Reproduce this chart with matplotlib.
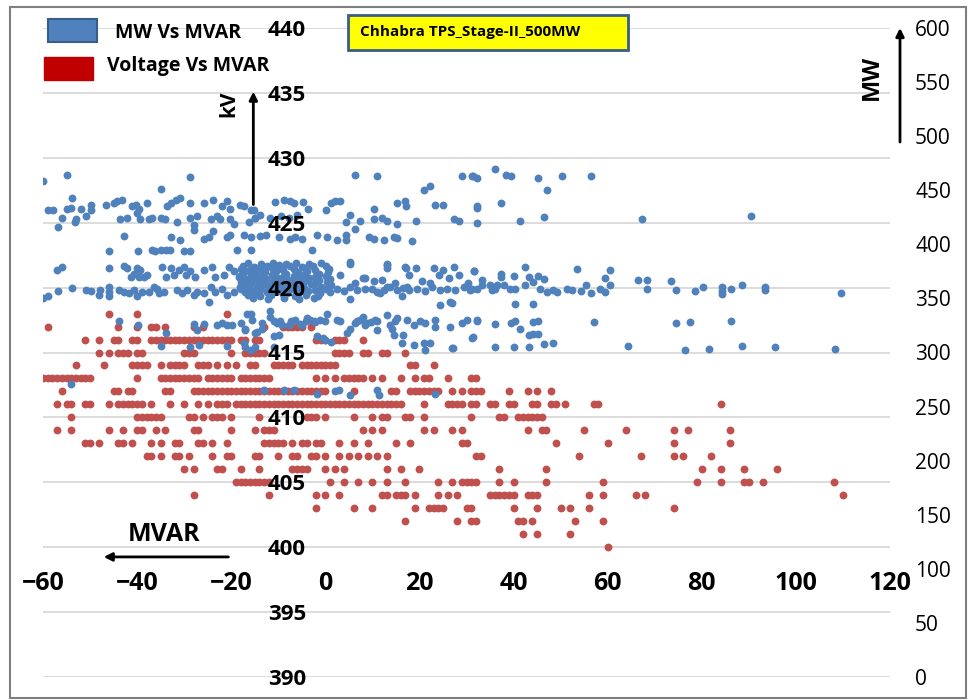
import numpy as np
import matplotlib.pyplot as plt
from matplotlib.patches import Rectangle

plt.rcParams['font.family'] = ['Open Sans', 'DejaVu Sans']

W, H = 973, 700

# Voltage (kV) vs MVAR - voltage is logged in whole kV steps
red_levels = [418, 417, 416, 415, 414, 413, 412, 411, 410, 409,
              408, 407, 406, 405, 404, 403, 402, 401, 400]
red_mvar = [
    [-46, -40, -21],
    [-59, -44, -40, -37, -36, -34, -28, -26, -13, -9, -8, -7, -6, -5, -3],
    [-51, -48, -45, -44, -41, -40, -37, -36, -35, -34, -33, -32, -31, -30, -29,
     -28, -27, -26, -25, -24, -23, -22, -21, -20, -18, -17, -15, -14, -2, -1,
     0, 2, 3, 4, 8],
    [-48, -46, -44, -43, -42, -40, -39, -30, -29, -28, -20, -17, -16, -15, -14,
     -13, 2, 3, 4, 5, 8, 9, 12, 13, 17],
    [-53, -47, -41, -40, -39, -38, -35, -33, -32, -31, -30, -27, -26, -25, -23,
     -21, -19, -16, -15, -11, -10, -9, -8, -7, -5, -4, -3, -2, -1, 0, 1, 2,
     18, 19, 23],
    [-60, -59, -58, -57, -56, -55, -54, -53, -52, -51, -50, -40, -35, -34, -33,
     -32, -31, -30, -29, -28, -27, -25, -24, -23, -22, -21, -20, -18, -17, -16,
     -15, -14, -13, -12, -2, 0, 2, 4, 5, 6, 7, 8, 10, 12, 16, 19, 21, 22, 26,
     31, 32],
    [-56, -45, -44, -42, -41, -34, -33, -28, -27, -26, -25, -24, -23, -22, -21,
     -20, -19, -18, -17, -16, -15, -14, -13, -12, -11, -10, -9, -8, -7, -6, -5,
     -4, -3, -2, -1, 0, 6, 14, 15, 18, 19, 20, 21, 22, 23, 24, 27, 29, 31, 32,
     33, 39, 43, 45, 48],
    [-57, -55, -54, -51, -50, -46, -44, -43, -42, -41, -40, -39, -37, -33, -30,
     -27, -25, -23, -22, -21, -19, -18, -17, -16, -15, -14, -13, -12, -11, -10,
     -9, -8, -7, -6, -5, -4, -3, -2, -1, 0, 1, 2, 3, 4, 5, 6, 7, 8, 9, 10, 11,
     12, 13, 14, 15, 16, 21, 26, 27, 28, 29, 31, 32, 35, 36, 39, 40, 44, 45,
     48, 49, 51, 57, 58, 84],
    [-54, -40, -39, -38, -37, -36, -35, -29, -28, -26, -24, -23, -22, -20, -14,
     -4, -3, -2, 0, 6, 10, 12, 13, 17, 18, 21, 31, 37, 38, 41, 42, 43, 44, 45,
     46],
    [-57, -54, -46, -43, -40, -39, -36, -34, -28, -27, -20, -15, -13, -12, -11,
     8, 10, 12, 21, 23, 27, 29, 43, 46, 47, 55, 64, 74, 77, 86],
    [-51, -50, -48, -44, -43, -41, -37, -35, -32, -31, -27, -26, -24, -21, -13,
     -12, -11, -10, -9, -7, -5, -4, -2, -1, 3, 6, 9, 15, 18, 29, 30, 49, 60,
     74, 86],
    [-38, -37, -35, -32, -31, -29, -24, -21, -20, -15, -14, -10, -7, -6, -3, -2,
     0, 3, 5, 7, 9, 11, 13, 32, 33, 54, 67, 74, 76, 82],
    [-30, -28, -23, -22, -18, -14, -7, -6, -5, -4, 0, 2, 4, 13, 16, 20, 37, 47,
     80, 84, 89, 96],
    [-19, -18, -17, -16, -15, -14, -13, -12, 1, 4, 7, 10, 13, 17, 24, 27, 29, 30,
     31, 32, 37, 40, 47, 59, 79, 84, 89, 90, 93, 108],
    [-28, -12, -2, 0, 3, 12, 13, 15, 16, 17, 19, 24, 26, 28, 35, 36, 37, 38, 39,
     40, 43, 44, 45, 56, 59, 66, 68, 110],
    [-2, 6, 10, 19, 22, 23, 24, 25, 30, 31, 40, 45, 50, 52, 56, 74],
    [17, 28, 31, 32, 41, 42, 44, 53, 59],
    [42, 45, 52],
    [60],
]

# MW vs MVAR, (MVAR, MW)
blue_pts = [
    (-59.9, 459), (-54.8, 464), (-28.7, 462), (-34.9, 451), (-53.8, 443),
    (-58.9, 432), (-57.8, 432), (-55.9, 424), (-56.8, 416), (-55.0, 433),
    (-54.1, 434), (-53.3, 421), (-52.9, 423), (-52.0, 433), (-50.9, 426),
    (-49.9, 436), (-49.7, 432), (-46.7, 436), (-44.9, 438), (-44.2, 440),
    (-43.2, 441), (-43.7, 423), (-42.1, 424), (-41.0, 435), (-40.3, 436),
    (-39.6, 433), (-40.0, 429), (-39.3, 423), (-37.9, 438), (-37.5, 423),
    (-36.8, 424), (-34.9, 424), (-34.0, 423), (-33.6, 435), (-32.9, 438),
    (-31.8, 441), (-31.5, 421), (-30.8, 443), (-28.7, 438), (-28.7, 424),
    (-28.0, 418), (-28.0, 413), (-27.2, 426), (-25.8, 438), (-24.4, 423),
    (-23.8, 441), (-23.0, 426), (-22.3, 423), (-21.9, 435), (-20.9, 440),
    (-20.2, 423), (-20.2, 433), (-19.5, 419), (-18.1, 436), (-17.3, 435),
    (-16.3, 421), (-15.2, 432), (-14.9, 424),
    (-42.8, 408), (-32.9, 407), (-30.9, 404), (-25.8, 405), (-24.8, 407),
    (-23.8, 412), (-20.9, 407), (-20.2, 409), (-17.3, 409), (-15.9, 407),
    (-46.0, 394), (-39.8, 394), (-36.8, 395), (-36.1, 394), (-34.9, 395),
    (-33.8, 395), (-33.0, 395), (-30.1, 394), (-28.8, 394), (-18.8, 395),
    (-15.9, 395),
    (-57.0, 376), (-55.9, 379), (-46.0, 378), (-42.8, 380), (-42.1, 378),
    (-41.4, 370), (-40.7, 373), (-40.0, 378), (-39.3, 376), (-39.6, 370),
    (-38.6, 370), (-37.9, 372), (-34.7, 379), (-33.8, 370), (-32.9, 378),
    (-32.2, 372), (-31.1, 376), (-30.1, 379), (-29.7, 372), (-28.7, 375),
    (-27.6, 370), (-25.8, 376), (-24.1, 379), (-23.4, 370), (-21.6, 372),
    (-20.5, 379), (-19.5, 375), (-18.4, 370), (-17.3, 376), (-15.9, 373),
    (-14.9, 378), (-14.2, 367),
    (-58.9, 352), (-60.0, 350), (-56.8, 357), (-53.8, 360), (-50.9, 358),
    (-49.9, 357), (-48.1, 353), (-47.8, 358), (-46.0, 361), (-46.0, 356),
    (-46.0, 352), (-43.9, 358), (-42.8, 356), (-41.8, 355), (-40.7, 358),
    (-40.0, 352), (-38.9, 356), (-37.5, 356), (-36.4, 361), (-35.7, 359),
    (-35.4, 355), (-34.3, 356), (-31.5, 358), (-30.4, 355), (-29.4, 358),
    (-28.0, 353), (-27.2, 356), (-25.8, 355), (-24.8, 347), (-24.4, 361),
    (-23.4, 356), (-21.9, 359), (-20.9, 353), (-19.5, 356), (-18.1, 361),
    (-16.6, 358), (-15.2, 355), (-14.2, 356),
    (-43.9, 329), (-39.8, 325), (-33.8, 318), (-28.0, 326), (-27.2, 321),
    (-25.8, 326), (-34.9, 306), (-28.7, 305), (-26.9, 307), (-23.0, 325),
    (-21.9, 327), (-20.9, 325), (-19.8, 325), (-20.9, 306), (-18.0, 327),
    (-17.0, 322), (-15.9, 336), (-17.3, 309), (-15.9, 302), (-14.9, 305),
    (-14.5, 319), (-54.0, 271),
    # main cluster around zero MVAR
    (-16.4, 383), (-13.6, 382), (-11.1, 383), (-8.3, 382), (-6.2, 383),
    (-3.4, 382), (-1.0, 383),
    (-17.6, 380), (-15.1, 379), (-12.4, 380), (-9.8, 381), (-7.6, 380),
    (-4.9, 379), (-2.6, 380), (0.2, 380),
    (-18.0, 377), (-16.1, 376), (-13.7, 377), (-11.4, 378), (-9.1, 376),
    (-6.7, 377), (-4.4, 378), (-2.1, 376), (0.8, 377),
    (-17.2, 374), (-14.8, 373), (-12.9, 374), (-10.4, 375), (-8.3, 373),
    (-5.9, 374), (-3.8, 375), (-1.4, 373), (0.6, 374),
    (-18.1, 371), (-15.7, 370), (-13.4, 371), (-11.3, 372), (-9.0, 370),
    (-6.6, 371), (-4.6, 372), (-2.3, 370), (0.1, 371),
    (-16.9, 368), (-14.7, 367), (-12.6, 368), (-10.1, 369), (-7.9, 367),
    (-5.7, 368), (-3.4, 369), (-1.3, 367), (1.0, 368),
    (-18.0, 365), (-15.9, 364), (-13.4, 365), (-11.1, 366), (-9.1, 364),
    (-6.9, 365), (-4.4, 366), (-2.1, 364), (0.3, 365),
    (-17.1, 362), (-14.5, 361), (-12.4, 362), (-9.9, 363), (-7.7, 361),
    (-5.6, 362), (-3.1, 363), (-0.9, 361), (1.2, 362),
    (-18.0, 359), (-15.7, 358), (-13.6, 359), (-11.3, 360), (-8.9, 358),
    (-6.8, 359), (-4.5, 360), (-2.3, 358), (0.1, 359),
    (-17.0, 356), (-14.9, 355), (-12.4, 356), (-10.2, 357), (-8.1, 355),
    (-5.7, 356), (-3.6, 357), (-1.2, 355), (0.9, 356),
    (-16.4, 353), (-13.9, 352), (-11.6, 353), (-9.1, 354), (-6.4, 352),
    (-4.1, 353), (-1.6, 352),
    (-15.3, 350), (-12.1, 349), (-8.7, 350), (-5.6, 349), (-2.4, 350),
    (3.2, 372), (5.3, 382), (6.4, 364), (8.5, 369), (10.3, 366), (11.7, 355),
    (13.1, 381), (13.1, 361), (14.9, 364), (16.3, 352), (17.0, 379),
    (17.3, 361), (2.5, 359), (3.9, 357), (5.3, 361), (6.7, 358), (8.5, 359),
    (9.9, 359), (11.0, 356), (12.4, 358), (13.8, 361), (15.2, 358),
    (16.6, 360), (17.7, 358), (19.5, 359), (21.2, 357), (22.6, 361),
    (24.4, 358), (25.8, 359), (27.6, 358), (29.4, 361), (30.8, 358),
    (32.2, 359), (8.1, 369), (12.0, 367), (17.8, 372), (20.5, 366),
    (22.3, 364), (24.1, 372), (26.2, 369), (28.3, 372), (30.4, 364),
    (5.3, 349), (24.4, 344), (26.5, 347), (13.2, 382), (13.2, 378),
    (17.2, 378), (19.3, 378), (23.0, 378), (25.1, 376), (27.4, 379),
    (31.5, 375), (5.2, 384),
    (-16.6, 336), (-15.6, 330), (-11.7, 338), (-13.4, 322), (-11.0, 329),
    (-9.6, 329), (-7.8, 325), (-6.4, 330), (-5.0, 325), (-3.9, 332),
    (-2.5, 329), (-1.1, 330), (0.3, 336), (2.5, 330), (3.2, 329), (6.7, 329),
    (8.1, 333), (8.8, 327), (11.0, 329), (13.1, 335), (14.1, 322),
    (15.2, 332), (17.3, 330), (-17.0, 321), (-14.9, 318), (-11.0, 315),
    (-1.8, 315), (-0.4, 313), (1.1, 310), (11.0, 321), (14.5, 316),
    (16.6, 316), (-17.0, 305), (-11.0, 305),
    (-13.4, 327), (-10.3, 327), (-9.2, 325), (-7.4, 329), (-5.3, 326),
    (-4.2, 329), (-3.2, 330), (-2.1, 328), (0.0, 329), (6.4, 327),
    (7.4, 330), (8.5, 325), (9.6, 328), (10.6, 330), (13.8, 325), (14.9, 329),
    (18.8, 325), (20.2, 329), (21.2, 327), (23.4, 330), (23.4, 324),
    (26.5, 324), (29.0, 327), (30.1, 330), (16.3, 309), (20.9, 309),
    (22.3, 309), (27.2, 304), (4.6, 318), (5.3, 322), (-11.7, 333),
    (26.9, 346), (-9.9, 316), (0.0, 312), (18.8, 307), (21.2, 302),
    (26.9, 304), (31.1, 313), (32.2, 330),
    (-13.1, 265), (-8.8, 265), (-6.7, 265), (-1.8, 262), (2.1, 264),
    (2.8, 265), (5.3, 261), (11.0, 265), (11.3, 261), (23.4, 262),
    (6.4, 464), (11.0, 463), (29.0, 463), (31.1, 463), (20.9, 450),
    (22.3, 454), (-10.8, 439), (-8.8, 441), (-7.6, 440), (-6.7, 438),
    (-4.7, 439), (1.1, 438), (2.1, 440), (3.2, 440), (0.2, 432), (-3.7, 433),
    (15.2, 438), (17.0, 440), (17.2, 435), (23.4, 436), (25.1, 436),
    (32.2, 435), (10.4, 433), (-15.9, 432), (-14.9, 424), (-13.8, 427),
    (-11.7, 424), (-9.5, 426), (-7.8, 424), (-6.0, 427), (5.3, 427),
    (4.3, 421), (7.4, 422), (10.4, 423), (12.0, 424), (13.1, 422),
    (15.2, 419), (19.2, 422), (27.4, 423), (28.5, 422), (6.4, 414),
    (-13.8, 408), (-12.7, 409), (-9.9, 407), (-7.6, 405), (-6.4, 407),
    (-5.0, 405), (-1.8, 409), (0.4, 407), (2.5, 404), (4.3, 409), (4.3, 404),
    (9.2, 407), (10.3, 405), (12.4, 404), (14.5, 407), (15.2, 406),
    (18.4, 403), (-2.8, 395),
    (31.4, 463), (32.2, 461), (36.1, 470), (38.4, 464), (39.4, 463),
    (45.3, 461), (50.3, 463), (56.4, 463), (47.2, 450), (37.3, 438),
    (32.2, 434), (32.2, 420), (41.3, 422), (46.5, 425), (67.4, 423),
    (31.5, 375), (33.3, 367), (33.3, 362), (31.1, 359), (35.0, 362),
    (35.4, 358), (36.1, 359), (36.5, 362), (37.3, 373), (37.3, 370),
    (37.9, 362), (39.3, 359), (40.2, 371), (40.3, 359), (42.5, 379),
    (42.5, 362), (43.2, 370), (44.2, 365), (45.3, 371), (45.7, 359),
    (46.5, 368), (47.2, 356), (48.3, 358), (49.3, 356), (51.3, 359),
    (52.4, 358), (53.4, 377), (54.3, 357), (55.4, 362), (56.4, 355),
    (58.4, 359), (59.5, 369), (59.5, 356), (60.5, 376), (60.5, 362),
    (66.4, 367), (68.3, 367), (68.3, 359), (73.4, 366), (74.5, 358),
    (78.6, 357), (40.3, 345), (44.2, 345),
    (32.2, 329), (36.1, 326), (39.4, 327), (40.3, 329), (41.4, 322),
    (44.2, 328), (45.3, 329), (57.1, 328), (74.5, 327), (77.4, 328),
    (43.2, 316), (44.2, 317), (45.3, 317), (31.4, 314), (36.1, 305),
    (40.2, 305), (43.2, 305), (46.5, 308), (48.3, 309), (64.3, 306),
    (76.4, 302),
    (90.4, 426), (80.3, 361), (84.4, 361), (84.4, 357), (84.4, 354),
    (86.3, 359), (88.5, 362), (93.4, 361), (93.4, 358), (109.5, 355),
    (86.3, 329), (81.5, 303), (88.5, 306), (95.5, 305), (108.4, 303),
]

red_x = [m for row in red_mvar for m in row]
red_y = [kv for kv, row in zip(red_levels, red_mvar) for _ in row]
blue_mvar = [p[0] for p in blue_pts]
blue_mw = [p[1] for p in blue_pts]

kv_ticks = np.arange(390, 441, 5)
mw_ticks = np.arange(0, 601, 50)
mvar_ticks = np.arange(-60, 121, 20)

fig = plt.figure(figsize=(W / 100, H / 100), dpi=100)
rect = [43 / W, 1 - 677 / H, (890 - 43) / W, (677 - 28) / H]

# red on the bottom axes, blue on the twin, labels on a clear overlay
ax = fig.add_axes(rect)
ax2 = ax.twinx()
ax3 = fig.add_axes(rect, sharex=ax, sharey=ax)
ax.set_zorder(1)
ax2.set_zorder(2)
ax3.set_zorder(3)
ax2.patch.set_visible(False)
ax3.patch.set_visible(False)

# axis lines cross at 0 MVAR / 400 kV (set before ticks, it resets them)
ax3.spines['left'].set_position(('data', 0))
ax3.spines['bottom'].set_position(('data', 400))

ax.set_xlim(-60, 120)
ax.set_ylim(390, 440)
ax2.set_ylim(0, 600)
ax.set_xticks(mvar_ticks)
ax.set_yticks(kv_ticks)

ax.grid(axis='y', color='#D9D9D9', lw=1.3)
ax.grid(axis='x', visible=False)
ax.set_axisbelow(True)
ax.tick_params(left=False, bottom=False, labelleft=False, labelbottom=False)

ax.scatter(red_x, red_y, s=32, color='#C0504D', linewidths=0, zorder=3)
ax2.scatter(blue_mvar, blue_mw, s=32, color='#4F81BD', linewidths=0, zorder=3)

ax2.set_yticks(mw_ticks)
ax2.tick_params(axis='y', length=0, pad=18, labelsize=15)

ax3.tick_params(axis='y', length=0, pad=14, labelsize=16)
ax3.tick_params(axis='x', length=0, pad=17, labelsize=18)

for a in (ax, ax2, ax3):
    for s in a.spines.values():
        s.set_visible(False)

arrow = dict(arrowstyle='-|>', lw=2, color='black', mutation_scale=12,
             shrinkA=0, shrinkB=0)
ax3.annotate('', xy=(-15.3, 435.1), xytext=(-15.3, 426.4), arrowprops=arrow)
ax3.text(-20.6, 434.2, 'kV', rotation=90, ha='center', va='center',
         fontsize=15, fontweight='bold')
ax3.annotate('', xy=(-47.1, 399.25), xytext=(-20.6, 399.25), arrowprops=arrow)
ax3.text(-34.2, 401.0, 'MVAR', ha='center', va='center',
         fontsize=18, fontweight='bold')
ax3.annotate('', xy=(900 / W, 1 - 28 / H), xytext=(900 / W, 1 - 142 / H),
             xycoords='figure fraction', textcoords='figure fraction',
             arrowprops=arrow, annotation_clip=False)
fig.text(872 / W, 1 - 77 / H, 'MW', rotation=90, ha='center', va='center',
         fontsize=17, fontweight='bold')

# legend swatches
fig.add_artist(Rectangle((48 / W, 1 - 42 / H), 49 / W, 23 / H,
                         transform=fig.transFigure, fc='#4F81BD',
                         ec='#385D8A', lw=1.5, zorder=5))
fig.text(115 / W, 1 - 33 / H, 'MW Vs MVAR', va='center', fontsize=14,
         fontweight='bold', zorder=5)
fig.add_artist(Rectangle((44 / W, 1 - 80 / H), 49 / W, 23 / H,
                         transform=fig.transFigure, fc='#C00000',
                         ec='#C00000', lw=1, zorder=5))
fig.text(107 / W, 1 - 66 / H, 'Voltage Vs MVAR', va='center', fontsize=14,
         fontweight='bold', zorder=5)

# station title box
fig.add_artist(Rectangle((348 / W, 1 - 50 / H), 280 / W, 35 / H,
                         transform=fig.transFigure, fc='#FFFF00',
                         ec='#385D8A', lw=2, zorder=5))
fig.text(360 / W, 1 - 32 / H, 'Chhabra TPS_Stage-II_500MW', va='center',
         fontsize=11, fontweight='bold', zorder=6)

fig.add_artist(Rectangle((10 / W, 1 - 698 / H), 956 / W, 691 / H,
                         transform=fig.transFigure, fill=False,
                         ec='#7F7F7F', lw=1.5))

# bold kV and MVAR numbers once the ticks exist
fig.canvas.draw()
plt.setp(ax3.get_xticklabels() + ax3.get_yticklabels(), fontweight='bold')

fig.savefig('out.png', dpi=100)
